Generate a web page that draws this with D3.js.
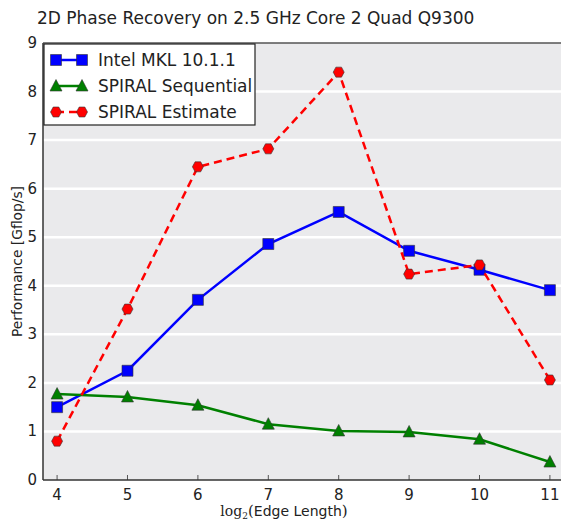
<!DOCTYPE html>
<html>
<head>
<style>
  body { margin: 0px; overflow: hidden; background: #fff; }
  text { font-family: "DejaVu Sans", sans-serif; fill: #222; }
</style>
<script src="https://d3js.org/d3.v7.min.js"></script>
</head>
<body>
<svg width="561" height="521"></svg>
<script>
const edge = [4, 5, 6, 7, 8, 9, 10, 11];
const mkl = [1.50, 2.25, 3.71, 4.86, 5.52, 4.72, 4.33, 3.91];
const seq = [1.77, 1.71, 1.54, 1.15, 1.01, 0.99, 0.84, 0.37];
const est = [0.80, 3.52, 6.45, 6.82, 8.40, 4.24, 4.43, 2.06];
const yTicks = [0, 1, 2, 3, 4, 5, 6, 7, 8, 9];

const series = [
  { name: 'Intel MKL 10.1.1', values: mkl, color: '#0000ff', marker: 'square', dash: null },
  { name: 'SPIRAL Sequential', values: seq, color: '#008000', marker: 'triangle', dash: null },
  { name: 'SPIRAL Estimate', values: est, color: '#ff0000', marker: 'hex', dash: '8,5' }
];

const svg = d3.select('svg');
const margin = { top: 43, left: 43, bottom: 41 };
const plotW = 564 - margin.left;
const plotH = 521 - margin.top - margin.bottom;

const x = d3.scaleLinear().domain([3.8, 11.2]).range([margin.left, margin.left + plotW]);
const y = d3.scaleLinear().domain([0, 9]).range([margin.top + plotH, margin.top]);

// background
svg.append('rect')
  .attr('x', margin.left).attr('y', margin.top)
  .attr('width', plotW).attr('height', plotH)
  .attr('fill', '#eaeaec');

// grid
svg.append('g').selectAll('line').data(yTicks.slice(1, -1))
  .enter().append('line')
  .attr('x1', margin.left).attr('x2', margin.left + plotW)
  .attr('y1', d => y(d)).attr('y2', d => y(d))
  .attr('stroke', '#fff').attr('stroke-width', 2.5);

// x ticks inside
svg.append('g').selectAll('line').data(edge)
  .enter().append('line')
  .attr('x1', d => x(d)).attr('x2', d => x(d))
  .attr('y1', y(0)).attr('y2', y(0) - 5)
  .attr('stroke', '#555').attr('stroke-width', 1);

// spines
svg.append('line').attr('x1', margin.left).attr('x2', margin.left)
  .attr('y1', margin.top).attr('y2', y(0)).attr('stroke', '#333').attr('stroke-width', 1.5);
svg.append('line').attr('x1', margin.left).attr('x2', margin.left + plotW)
  .attr('y1', y(0)).attr('y2', y(0)).attr('stroke', '#333').attr('stroke-width', 1.5);
svg.append('line').attr('x1', margin.left).attr('x2', margin.left + plotW)
  .attr('y1', margin.top).attr('y2', margin.top).attr('stroke', '#555').attr('stroke-width', 1.5);

// tick labels
svg.append('g').selectAll('text').data(edge)
  .enter().append('text')
  .attr('x', d => x(d)).attr('y', y(0) + 20)
  .attr('text-anchor', 'middle').attr('font-size', 15)
  .text(d => d);
svg.append('g').selectAll('text').data(yTicks)
  .enter().append('text')
  .attr('x', margin.left - 6).attr('y', d => y(d) + 5)
  .attr('text-anchor', 'end').attr('font-size', 15)
  .text(d => d);

// title
svg.append('text').attr('x', 37).attr('y', 24)
  .attr('font-size', 17).text('2D Phase Recovery on 2.5 GHz Core 2 Quad Q9300');

// axis labels
svg.append('text')
  .attr('transform', `translate(22,${margin.top + plotH / 2}) rotate(-90)`)
  .attr('text-anchor', 'middle').attr('font-size', 13.8)
  .text('Performance [Gflop/s]');

const xl = svg.append('text').attr('x', 284).attr('y', 516)
  .attr('text-anchor', 'middle').attr('font-size', 14);
xl.append('tspan').attr('font-family', 'DejaVu Serif, serif').text('log');
xl.append('tspan').attr('font-family', 'DejaVu Serif, serif').attr('font-size', 9).attr('dy', 3).text('2');
xl.append('tspan').attr('font-family', 'DejaVu Serif, serif').attr('dy', -3).attr('font-size', 15).text('(');
xl.append('tspan').text('Edge Length');
xl.append('tspan').attr('font-family', 'DejaVu Serif, serif').attr('font-size', 15).text(')');

function markerPath(type) {
  if (type === 'square') return 'M-5.5,-5.5H5.5V5.5H-5.5Z';
  if (type === 'triangle') return 'M0,-6.5L6,5H-6Z';
  return 'M-5.5,0L-2.8,-5H2.8L5.5,0L2.8,5H-2.8Z';
}

const line = d3.line().x((d, i) => x(edge[i])).y(d => y(d));

series.forEach(s => {
  svg.append('path').datum(s.values)
    .attr('d', line)
    .attr('fill', 'none').attr('stroke', s.color).attr('stroke-width', 2.5)
    .attr('stroke-dasharray', s.dash);
  svg.append('g').selectAll('path').data(s.values)
    .enter().append('path')
    .attr('transform', (d, i) => `translate(${x(edge[i])},${y(d)})`)
    .attr('d', markerPath(s.marker))
    .attr('fill', s.color).attr('stroke', '#333').attr('stroke-width', 0.6);
});

// legend
const lg = svg.append('g');
lg.append('rect').attr('x', 44).attr('y', 44).attr('width', 211).attr('height', 81)
  .attr('fill', '#fff').attr('stroke', '#222').attr('stroke-width', 1.2);
series.forEach((s, i) => {
  const yy = 60 + i * 26;
  lg.append('line').attr('x1', 56).attr('x2', 82).attr('y1', yy).attr('y2', yy)
    .attr('stroke', s.color).attr('stroke-width', 2.5).attr('stroke-dasharray', s.dash ? '8,5' : null);
  [56, 82].forEach(px => {
    lg.append('path').attr('transform', `translate(${px},${yy})`)
      .attr('d', markerPath(s.marker))
      .attr('fill', s.color).attr('stroke', '#333').attr('stroke-width', 0.6);
  });
  lg.append('text').attr('x', 98).attr('y', yy + 6).attr('font-size', 17).text(s.name);
});
</script>
</body>
</html>
